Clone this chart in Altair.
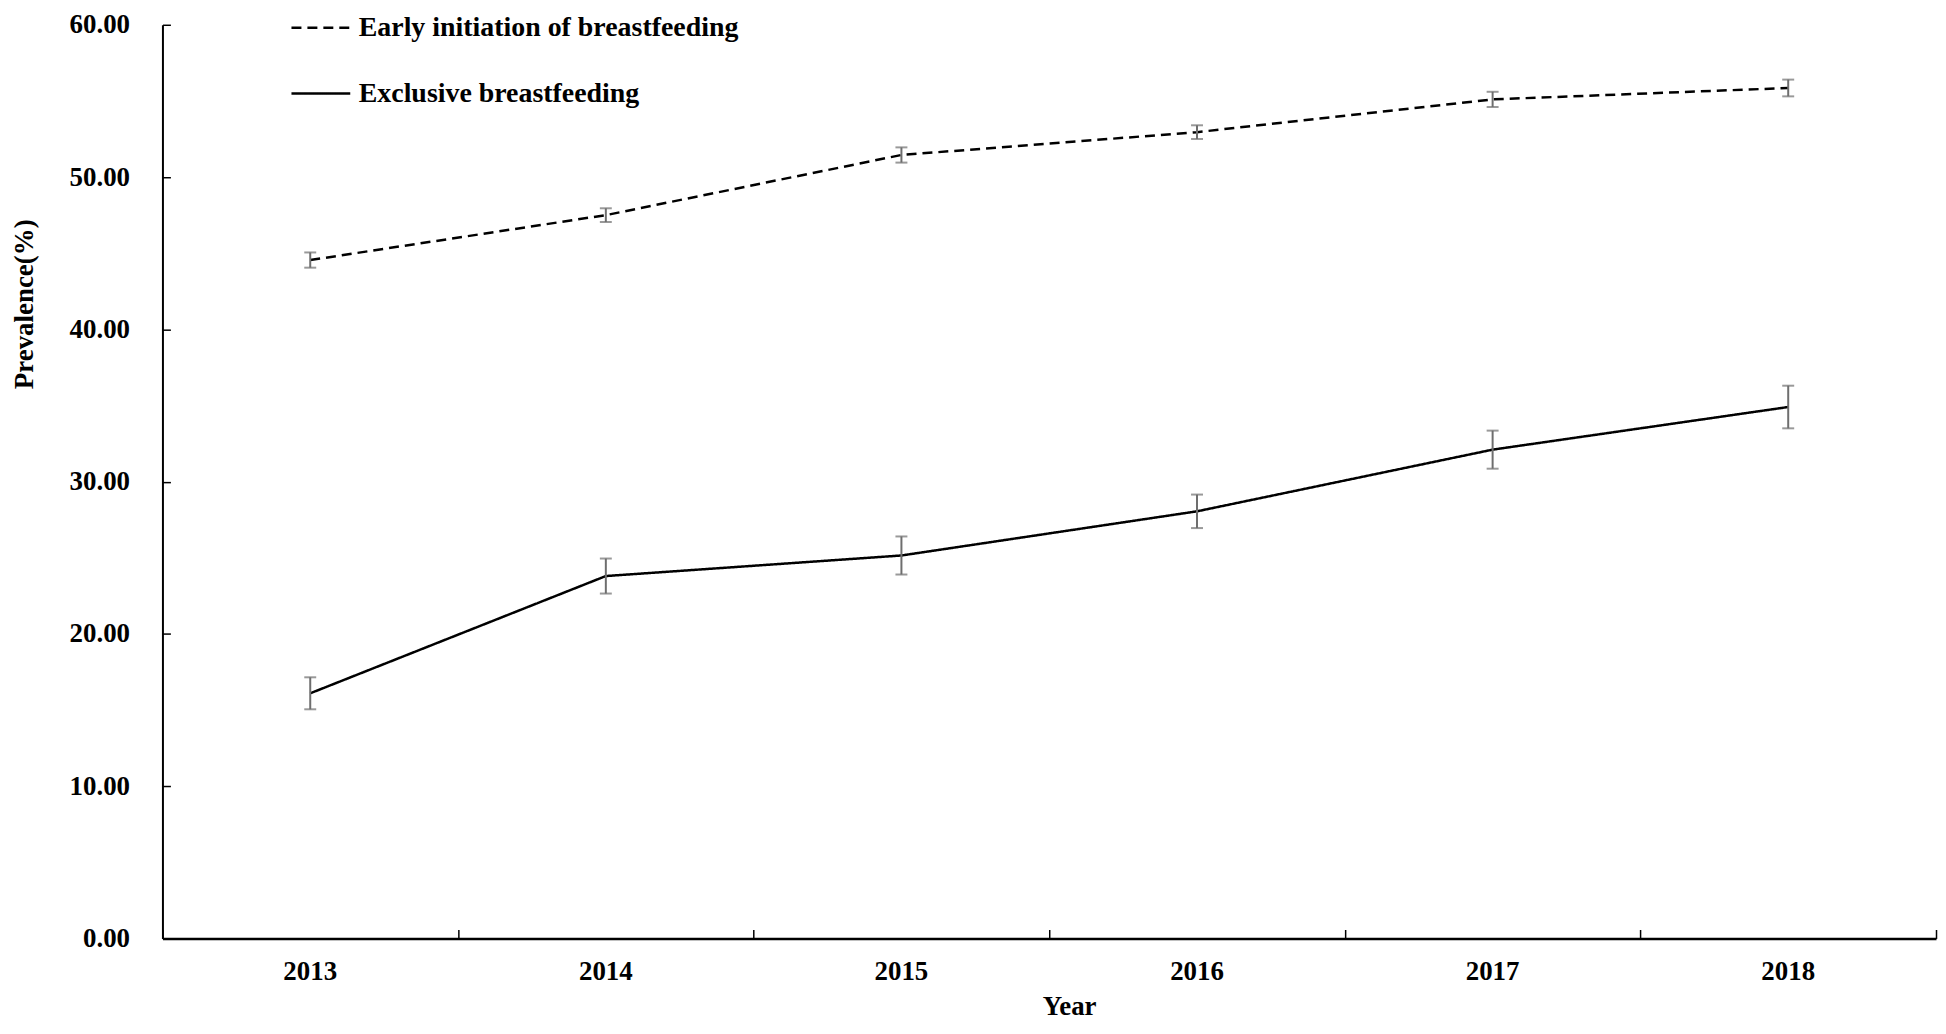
import altair as alt
import pandas as pd

years = ["2013", "2014", "2015", "2016", "2017", "2018"]
series_names = ["Early initiation of breastfeeding", "Exclusive breastfeeding"]
early = [44.55, 47.5, 51.45, 52.95, 55.1, 55.85]
early_err = [0.5, 0.45, 0.5, 0.45, 0.5, 0.55]
excl = [16.1, 23.8, 25.15, 28.05, 32.1, 34.9]
excl_err = [1.05, 1.15, 1.25, 1.1, 1.25, 1.4]
y_ticks = [0, 10, 20, 30, 40, 50, 60]

rows = []
for name, vals, errs in [(series_names[0], early, early_err), (series_names[1], excl, excl_err)]:
    for yr, v, e in zip(years, vals, errs):
        rows.append(dict(Year=yr, Series=name, Value=v, Lo=v - e, Hi=v + e))
df = pd.DataFrame(rows)

W, H = 1780, 917
FONT = "Liberation Serif"
ERR_COLOR = "#6e6e6e"

xscale = alt.Scale(type="band", paddingInner=0, paddingOuter=0, domain=years)
yscale = alt.Scale(domain=[0, 60], nice=False, zero=True)

base = alt.Chart(df)

lines = base.mark_line(strokeWidth=2.5, color="black").encode(
    x=alt.X("Year:O", bandPosition=0.5, scale=xscale,
            axis=alt.Axis(orient="bottom", title="Year", labelAngle=0, ticks=False, tickSize=0,
                          labelPadding=20, domainWidth=2.5, domainColor="black",
                          labelFont=FONT, labelFontSize=27, labelFontWeight="bold", labelColor="black",
                          titleFont=FONT, titleFontSize=27, titleFontWeight="bold", titleColor="black",
                          titleX=910, titleY=68, titleBaseline="middle", titleAlign="center", grid=False)),
    y=alt.Y("Value:Q", scale=yscale,
            axis=alt.Axis(orient="left", values=y_ticks, format=".2f", ticks=False, tickSize=0,
                          labelPadding=33, domainWidth=2, domainColor="black",
                          labelFont=FONT, labelFontSize=27, labelFontWeight="bold", labelColor="black",
                          title="Prevalence(%)", titleFont=FONT, titleFontSize=27, titleFontWeight="bold",
                          titleColor="black", titleAngle=270, titleX=-138, titleY=280,
                          titleBaseline="middle", titleAlign="center", grid=False)),
    strokeDash=alt.StrokeDash("Series:N",
                              scale=alt.Scale(domain=series_names, range=[[10, 6], [1, 0]]),
                              legend=alt.Legend(title=None, orient="none", legendX=128, legendY=-28,
                                                labelFont=FONT, labelFontSize=28, labelFontWeight="bold",
                                                labelColor="black", labelLimit=1000, labelOffset=7,
                                                rowPadding=21, padding=0, symbolType="stroke",
                                                symbolSize=3481, symbolStrokeWidth=2.5,
                                                symbolStrokeColor="black")),
)

rules = base.mark_rule(color=ERR_COLOR, strokeWidth=2).encode(
    x=alt.X("Year:O", bandPosition=0.5, scale=xscale,
            axis=alt.Axis(orient="top", offset=-H, labels=False, domain=False, ticks=True,
                          tickSize=9, tickBand="extent", tickColor="black", tickWidth=1.5,
                          title=None, grid=False)),
    y=alt.Y("Lo:Q", scale=yscale,
            axis=alt.Axis(orient="right", offset=-W, values=y_ticks, labels=False, domain=False,
                          ticks=True, tickSize=8, tickColor="black", tickWidth=1.5,
                          title=None, grid=False)),
    y2="Hi:Q",
)

caps_lo = base.mark_tick(color=ERR_COLOR, thickness=2, size=12).encode(
    x=alt.X("Year:O", bandPosition=0.5, scale=xscale, axis=None),
    y=alt.Y("Lo:Q", scale=yscale, axis=None),
)
caps_hi = base.mark_tick(color=ERR_COLOR, thickness=2, size=12).encode(
    x=alt.X("Year:O", bandPosition=0.5, scale=xscale, axis=None),
    y=alt.Y("Hi:Q", scale=yscale, axis=None),
)

chart = alt.layer(lines, rules, caps_lo, caps_hi).resolve_axis(
    x="independent", y="independent"
).properties(
    width=W, height=H,
    autosize=alt.AutoSizeParams(type="none"),
    padding={"left": 155, "top": 15, "right": 2, "bottom": 86},
    background="white",
).configure_view(stroke=None)

chart.save("out.html", embed_options={"renderer": "svg", "actions": False})
